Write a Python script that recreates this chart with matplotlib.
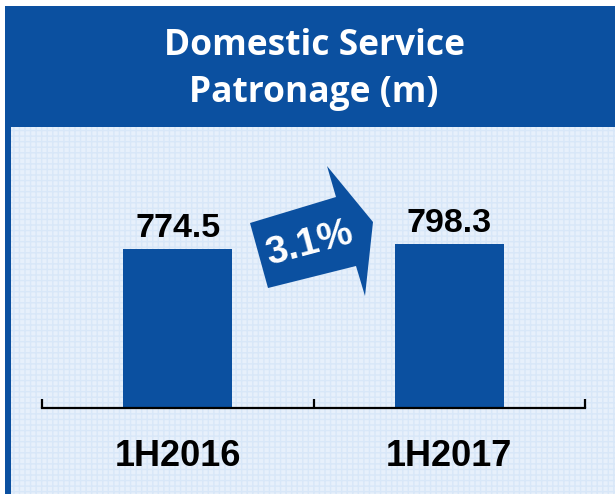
import matplotlib
matplotlib.use("Agg")
import matplotlib.pyplot as plt
from matplotlib.patches import Rectangle, Polygon
from matplotlib.ticker import FixedLocator

categories = ["1H2016", "1H2017"]
values = [774.5, 798.3]
value_labels = ["774.5", "798.3"]
growth_label = "3.1%"
title_lines = ["Domestic Service", "Patronage (m)"]

BLUE = "#0B50A0"
BG = "#E7F0FB"
W, H = 615, 494
fig = plt.figure(figsize=(W / 100, H / 100), dpi=100)

# decoration axes in pixel coordinates
deco = fig.add_axes([0, 0, 1, 1])
deco.set_xlim(0, W)
deco.set_ylim(H, 0)
deco.axis("off")
deco.add_patch(Rectangle((5, 127), W - 5, H - 127, facecolor=BG, edgecolor="#D8E7F8",
                         hatch="+++", linewidth=0))
deco.add_patch(Rectangle((5, 6), W - 5, 121, facecolor=BLUE, edgecolor="none"))
deco.add_patch(Rectangle((5, 127), 5.5, H - 127, facecolor=BLUE, edgecolor="none"))

deco.text(314, 46, title_lines[0], color="white", fontsize=25.5, family="Open Sans",
          fontweight="bold", ha="center", va="center")
deco.text(314, 93, title_lines[1], color="white", fontsize=25.5, family="Open Sans",
          fontweight="bold", ha="center", va="center")

# growth arrow
arrow_pts = [(250, 223), (336, 197), (327, 166), (373, 222), (365, 296), (356, 266), (268, 288)]
deco.add_patch(Polygon(arrow_pts, closed=True, facecolor=BLUE, edgecolor="none"))
deco.text(309, 244, growth_label, color="white", fontsize=28, family="Liberation Sans",
          fontweight="bold", rotation=15, ha="center", va="center", rotation_mode="anchor")

# bar axes: pixels x 42..585, y bottom 408, top 128
x0, x1 = 42, 585
ybot, ytop = 408, 128
ax = fig.add_axes([x0 / W, (H - ybot) / H, (x1 - x0) / W, (ybot - ytop) / H])
ax.patch.set_alpha(0)
px_per_unit = 164 / 798.3
ax.set_xlim(-0.5, 1.5)
ax.set_ylim(0, (ybot - ytop) / px_per_unit)
xs = list(range(len(categories)))
ax.bar(xs, values, width=0.40, color=BLUE, zorder=2)
for x, v, lab in zip(xs, values, value_labels):
    ax.annotate(lab, (x, v), xytext=(0, 3.5), textcoords="offset points", ha="center",
                va="bottom", fontsize=24.5, fontweight="bold", family="Liberation Sans",
                color="black")

for s in ["top", "left", "right"]:
    ax.spines[s].set_visible(False)
ax.spines["bottom"].set_linewidth(1.6)
ax.spines["bottom"].set_color("black")
ax.set_yticks([])
ax.set_xticks(xs)
ax.set_xticklabels(categories, fontsize=26, fontweight="bold", family="Liberation Sans")
ax.tick_params(axis="x", which="major", length=0, pad=22.5)
ax.xaxis.set_minor_locator(FixedLocator([-0.5, 0.5, 1.5]))
ax.tick_params(axis="x", which="minor", direction="in", length=6.5, width=1.6, color="black")

fig.savefig("out.png", dpi=100)
